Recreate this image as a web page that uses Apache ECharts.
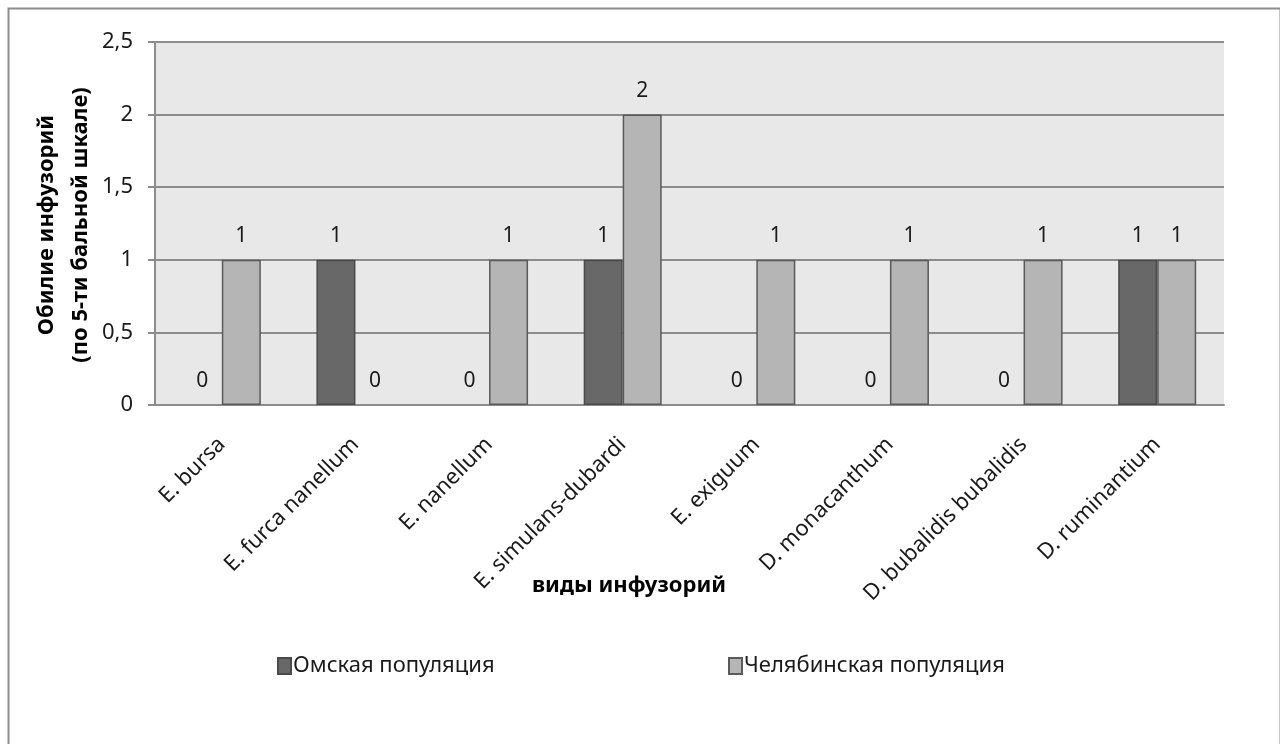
<!DOCTYPE html>
<html>
<head>
<meta charset="utf-8">
<script src="https://cdn.jsdelivr.net/npm/echarts@6/dist/echarts.min.js"></script>
<style>
  html, body { margin: 0; padding: 0; background: #ffffff; }
  #chart { width: 1280px; height: 744px; }
</style>
</head>
<body>
<div id="chart"></div>
<script>
// Species of ciliates and their abundance scores (5-point scale)
const categories = [
  'E. bursa',
  'E. furca nanellum',
  'E. nanellum',
  'E. simulans-dubardi',
  'E. exiguum',
  'D. monacanthum',
  'D. bubalidis bubalidis',
  'D. ruminantium'
];
const omskValues = [0, 1, 0, 1, 0, 0, 0, 1];
const chelyabinskValues = [1, 0, 1, 2, 1, 1, 1, 1];
const seriesNames = ['Омская популяция', 'Челябинская популяция'];
const yTicks = { min: 0, max: 2.5, interval: 0.5 };

const FONT = '"Noto Sans", "Open Sans", sans-serif';
const gridColor = '#8c8c8c';
const textColor = '#1a1a1a';

const chart = echarts.init(document.getElementById('chart'), null, { renderer: 'canvas' });

const labelStyle = {
  show: true,
  position: 'top',
  distance: 13,
  fontFamily: FONT,
  fontSize: 21,
  color: textColor
};

// zero-height bars get no outline so only their value label shows
const toBarData = values => values.map(v => (
  v === 0 ? { value: v, itemStyle: { borderWidth: 0 } } : v
));

const legendBase = {
  icon: 'rect',
  top: 650,
  itemWidth: 13, itemHeight: 16, itemGap: 6,
  textStyle: { fontFamily: FONT, fontSize: 22, color: textColor, padding: [0, 0, 0, -3] },
  selectedMode: false
};

chart.setOption({
  animation: false,
  backgroundColor: '#ffffff',
  textStyle: { fontFamily: FONT },
  grid: {
    left: 155, right: 56, top: 42, bottom: 339,
    show: true, backgroundColor: '#e8e8e8', borderWidth: 0
  },
  legend: [
    Object.assign({}, legendBase, { data: [seriesNames[0]], left: 272 }),
    Object.assign({}, legendBase, { data: [seriesNames[1]], left: 723 })
  ],
  xAxis: {
    type: 'category',
    data: categories,
    axisLine: { lineStyle: { color: gridColor, width: 2 } },
    axisTick: { show: false },
    axisLabel: {
      rotate: 45,
      margin: 36,
      interval: 0,
      fontFamily: FONT,
      fontSize: 22,
      color: textColor
    },
    splitLine: { show: false }
  },
  yAxis: {
    type: 'value',
    min: yTicks.min,
    max: yTicks.max,
    interval: yTicks.interval,
    axisLine: { show: true, lineStyle: { color: gridColor, width: 2 } },
    axisTick: { show: true, length: 7, lineStyle: { color: gridColor, width: 2 } },
    axisLabel: {
      margin: 22,
      fontFamily: FONT,
      fontSize: 22,
      color: textColor,
      formatter: v => String(v).replace('.', ',')
    },
    splitLine: { show: true, lineStyle: { color: gridColor, width: 2 } }
  },
  series: [
    {
      name: seriesNames[0],
      type: 'bar',
      data: toBarData(omskValues),
      barWidth: 39,
      barGap: '0%',
      itemStyle: { color: '#686868', borderColor: '#4a4a4a', borderWidth: 1.5 },
      label: labelStyle
    },
    {
      name: seriesNames[1],
      type: 'bar',
      data: toBarData(chelyabinskValues),
      barWidth: 39,
      barGap: '0%',
      itemStyle: { color: '#b5b5b5', borderColor: '#5a5a5a', borderWidth: 1.5 },
      label: labelStyle
    }
  ],
  graphic: [
    {
      type: 'rect',
      left: 6, top: 6,
      shape: { width: 1272, height: 800 },
      style: { fill: 'none', stroke: '#8c8c8c', lineWidth: 2 },
      silent: true
    },
    {
      // value axis title, two lines rotated along the axis
      type: 'text',
      x: 64, y: 225,
      rotation: Math.PI / 2,
      style: {
        text: 'Обилие инфузорий\n(по 5-ти бальной шкале)',
        align: 'center', verticalAlign: 'middle',
        lineHeight: 34,
        fontFamily: FONT, fontSize: 22, fontWeight: 'bold', fill: '#000000'
      }
    },
    {
      type: 'text',
      x: 629, y: 586,
      style: {
        text: 'виды инфузорий',
        align: 'center', verticalAlign: 'middle',
        fontFamily: FONT, fontSize: 22, fontWeight: 'bold', fill: '#000000'
      }
    }
  ]
});
</script>
</body>
</html>
